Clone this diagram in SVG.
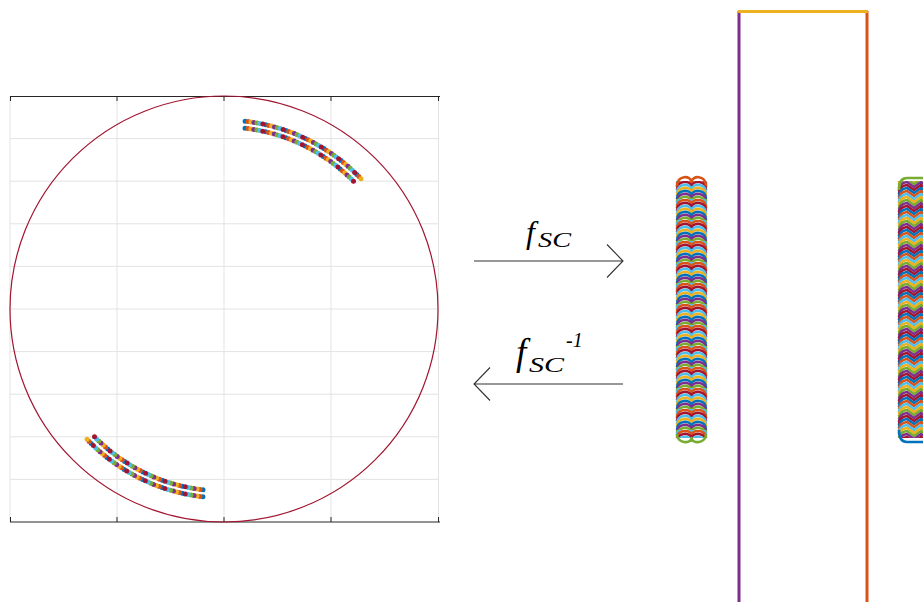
<svg xmlns="http://www.w3.org/2000/svg" xmlns:xlink="http://www.w3.org/1999/xlink" width="923" height="602" viewBox="0 0 923 602">
<style>
.grid{stroke:#e3e3e3;stroke-width:1;fill:none}
.axis{stroke:#262626;stroke-width:1;fill:none}
.arrow{stroke:#333;stroke-width:1.1;fill:none}
.lbl{font-family:"Liberation Serif","Times New Roman",serif;font-style:italic;fill:#000}
.dot{fill:none;stroke-width:5;stroke-linecap:round;stroke-dasharray:0 21}
.c1{stroke:#0072BD}.c2{stroke:#D95319}.c3{stroke:#EDB120}.c4{stroke:#7E2F8E}.c5{stroke:#77AC30}.c6{stroke:#4DBEEE}.c7{stroke:#A2142F}
.o0{stroke-dashoffset:0}.o1{stroke-dashoffset:-3}.o2{stroke-dashoffset:-6}.o3{stroke-dashoffset:-9}.o4{stroke-dashoffset:-12}.o5{stroke-dashoffset:-15}.o6{stroke-dashoffset:-18}
.lay{fill:none;stroke-width:2.6;stroke-linejoin:round}
</style>
<defs>
<path id="arc1" d="M245.1,121.2 A189,189 0 0 1 361.3,179.1"/>
<path id="arc2" d="M245,128.2 A182,182 0 0 1 355.2,182.9"/>
<path id="arc3" d="M202.9,496.8 A189,189 0 0 1 86.7,438.9"/>
<path id="arc4" d="M203,489.8 A182,182 0 0 1 92.8,435.1"/>
<path id="wv" d="M2,9 C2,-1 15,-1 16.5,5 C18,-1 31,-1 31,9"/>
<path id="zz" d="M2,10 Q2,2 10,1 L17,6 L24,1 L31,6 L38,1 L45,6"/>
<pattern id="pL" patternUnits="userSpaceOnUse" x="675" y="178" width="33" height="21">
<use xlink:href="#wv" class="lay c5" transform="translate(0,-6)"/>
<use xlink:href="#wv" class="lay c6" transform="translate(0,-3)"/>
<use xlink:href="#wv" class="lay c2" transform="translate(0,0)"/>
<use xlink:href="#wv" class="lay c7" transform="translate(0,3)"/>
<use xlink:href="#wv" class="lay c6" transform="translate(0,6)"/>
<use xlink:href="#wv" class="lay c3" transform="translate(0,9)"/>
<use xlink:href="#wv" class="lay c1" transform="translate(0,12)"/>
<use xlink:href="#wv" class="lay c4" transform="translate(0,15)"/>
<use xlink:href="#wv" class="lay c5" transform="translate(0,18)"/>
</pattern>
<pattern id="pR" patternUnits="userSpaceOnUse" x="897" y="178" width="48" height="21">
<use xlink:href="#zz" class="lay c6" transform="translate(0,-6)"/>
<use xlink:href="#zz" class="lay c3" transform="translate(0,-3)"/>
<use xlink:href="#zz" class="lay c5" transform="translate(0,0)"/>
<use xlink:href="#zz" class="lay c4" transform="translate(0,3)"/>
<use xlink:href="#zz" class="lay c7" transform="translate(0,6)"/>
<use xlink:href="#zz" class="lay c1" transform="translate(0,9)"/>
<use xlink:href="#zz" class="lay c2" transform="translate(0,12)"/>
<use xlink:href="#zz" class="lay c6" transform="translate(0,15)"/>
<use xlink:href="#zz" class="lay c3" transform="translate(0,18)"/>
</pattern>
</defs>
<rect width="923" height="602" fill="#fff"/>

<g id="left-plot">
<g class="grid">
<line x1="10" y1="96" x2="10" y2="522"/><line x1="117" y1="96" x2="117" y2="522"/><line x1="224" y1="96" x2="224" y2="522"/><line x1="331" y1="96" x2="331" y2="522"/><line x1="438.5" y1="96" x2="438.5" y2="522"/>
<line x1="10" y1="138.6" x2="439" y2="138.6"/><line x1="10" y1="181.2" x2="439" y2="181.2"/><line x1="10" y1="223.8" x2="439" y2="223.8"/><line x1="10" y1="266.4" x2="439" y2="266.4"/><line x1="10" y1="309" x2="439" y2="309"/><line x1="10" y1="351.6" x2="439" y2="351.6"/><line x1="10" y1="394.2" x2="439" y2="394.2"/><line x1="10" y1="436.8" x2="439" y2="436.8"/><line x1="10" y1="479.4" x2="439" y2="479.4"/>
</g>
<g class="axis">
<line x1="10" y1="96.5" x2="440" y2="96.5"/><line x1="10" y1="522" x2="440" y2="522"/>
<path d="M10.5,96 V101 M117,96 V101 M224,96 V101 M331,96 V101 M438.5,96 V101 M10.5,522 V517 M117,522 V517 M224,522 V517 M331,522 V517 M438.5,522 V517"/>
</g>
<ellipse cx="224" cy="309" rx="214" ry="213" fill="none" stroke="#A2142F" stroke-width="1.2"/>
<g id="dots-top">
<use xlink:href="#arc1" class="dot c1 o0"/><use xlink:href="#arc1" class="dot c2 o1"/><use xlink:href="#arc1" class="dot c3 o2"/><use xlink:href="#arc1" class="dot c4 o3"/><use xlink:href="#arc1" class="dot c5 o4"/><use xlink:href="#arc1" class="dot c6 o5"/><use xlink:href="#arc1" class="dot c7 o6"/>
<use xlink:href="#arc2" class="dot c1 o0"/><use xlink:href="#arc2" class="dot c2 o1"/><use xlink:href="#arc2" class="dot c3 o2"/><use xlink:href="#arc2" class="dot c4 o3"/><use xlink:href="#arc2" class="dot c5 o4"/><use xlink:href="#arc2" class="dot c6 o5"/><use xlink:href="#arc2" class="dot c7 o6"/>
</g>
<g id="dots-bottom">
<use xlink:href="#arc3" class="dot c1 o0"/><use xlink:href="#arc3" class="dot c2 o1"/><use xlink:href="#arc3" class="dot c3 o2"/><use xlink:href="#arc3" class="dot c4 o3"/><use xlink:href="#arc3" class="dot c5 o4"/><use xlink:href="#arc3" class="dot c6 o5"/><use xlink:href="#arc3" class="dot c7 o6"/>
<use xlink:href="#arc4" class="dot c1 o0"/><use xlink:href="#arc4" class="dot c2 o1"/><use xlink:href="#arc4" class="dot c3 o2"/><use xlink:href="#arc4" class="dot c4 o3"/><use xlink:href="#arc4" class="dot c5 o4"/><use xlink:href="#arc4" class="dot c6 o5"/><use xlink:href="#arc4" class="dot c7 o6"/>
</g>
</g>

<g id="connectors">
<g id="arrow-forward">
<path class="arrow" d="M474,261 H623 M607,244.5 L623,261 L607,277.5"/>
<text class="lbl" x="526" y="243" font-size="32">f</text>
<text class="lbl" x="538" y="247" font-size="20" textLength="33" lengthAdjust="spacingAndGlyphs">SC</text>
</g>
<g id="arrow-inverse">
<path class="arrow" d="M623,384 H474 M490,367.5 L474,384 L490,400.5"/>
<text class="lbl" x="516" y="365" font-size="37">f</text>
<text class="lbl" x="529" y="372" font-size="21" textLength="35" lengthAdjust="spacingAndGlyphs">SC</text>
<text class="lbl" x="566" y="347" font-size="20">-1</text>
</g>
</g>

<g id="right-plot">
<g id="column-left">
<rect x="675" y="181" width="33" height="257" fill="url(#pL)"/>
<path class="lay c2" d="M677,186 C677,175 691,175 691.5,182 C692,175 706,175 706,186"/>
<path class="lay c5" d="M677,434 C677,444 691,444 691.5,438 C692,444 706,444 706,434"/>
</g>
<g id="column-right">
<rect x="897" y="181" width="26" height="257" fill="url(#pR)"/>
<path class="lay c5" d="M899,190 Q899,178 907,178 L923,178"/>
<path class="lay c1" d="M899,430 Q899,442 907,442 L923,442"/>
</g>
<line x1="739" y1="11" x2="739" y2="602" stroke="#7E2F8E" stroke-width="3"/>
<line x1="867" y1="11" x2="867" y2="602" stroke="#D95319" stroke-width="3"/>
<line x1="738" y1="11.5" x2="868" y2="11.5" stroke="#EDB120" stroke-width="3"/>
</g>
</svg>
